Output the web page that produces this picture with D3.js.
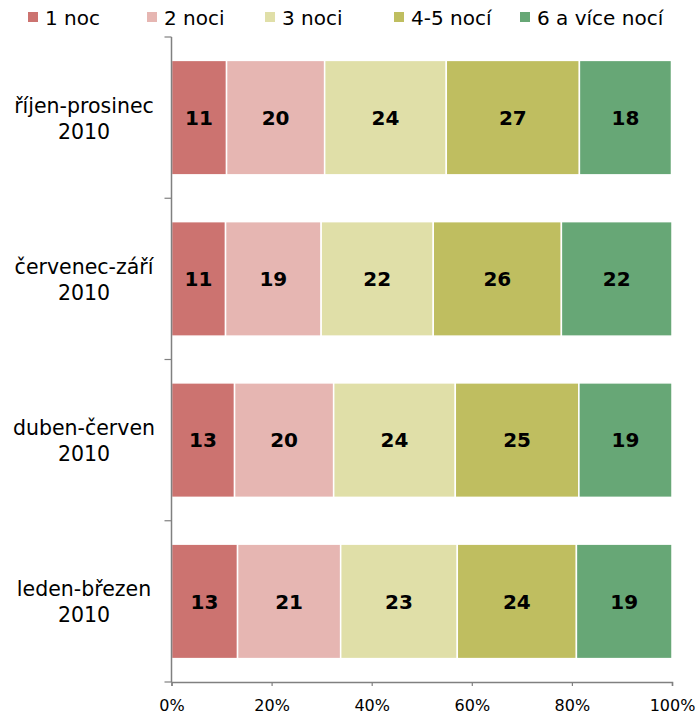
<!DOCTYPE html>
<html>
<head>
<meta charset="utf-8">
<script src="https://cdn.jsdelivr.net/npm/d3@7"></script>
<style>
  html, body { margin: 0; padding: 0; background: #fff; }
  svg { display: block; }
  text { font-family: "DejaVu Sans", Verdana, sans-serif; }
</style>
</head>
<body>
<div id="chart"></div>
<script>
// ---- data ----
const categories = [
  ["říjen-prosinec", "2010"],
  ["červenec-září", "2010"],
  ["duben-červen", "2010"],
  ["leden-březen", "2010"]
];
const seriesNames = ["1 noc", "2 noci", "3 noci", "4-5 nocí", "6 a více nocí"];
const s1 = [11.0, 10.8, 12.6, 13.2];
const s2 = [19.6, 19.1, 19.8, 20.6];
const s3 = [24.3, 22.4, 24.3, 23.3];
const s4 = [26.6, 25.6, 24.7, 23.8];
const s5 = [18.4, 22.1, 18.6, 19.1];
const colors = ["#CC7370", "#E6B6B2", "#E0DFA8", "#BFBE60", "#67A776"];
const xTicks = [0, 20, 40, 60, 80, 100];

const W = 697, H = 715;
const margin = { left: 171.5, right: 25, top: 37, bottom: 33 };

const svg = d3.select("#chart").append("svg").attr("width", W).attr("height", H);

const rows = categories.map((c, i) => ({
  key: c.join(" "), lines: c,
  vals: [s1[i], s2[i], s3[i], s4[i], s5[i]]
}));

const x = d3.scaleLinear().domain([0, 100]).range([margin.left, W - margin.right]);
const y = d3.scaleBand().domain(rows.map(r => r.key))
  .range([margin.top, H - margin.bottom]).paddingInner(0.29).paddingOuter(0.145);

// bars
rows.forEach(r => {
  let acc = 0;
  const segs = r.vals.map((v, j) => { const s = { x0: acc, x1: acc + v, v, j }; acc += v; return s; });
  const g = svg.append("g");
  g.selectAll("rect").data(segs).enter().append("rect")
    .attr("x", d => x(d.x0))
    .attr("width", d => x(d.x1) - x(d.x0))
    .attr("y", y(r.key))
    .attr("height", y.bandwidth())
    .attr("fill", d => colors[d.j])
    .attr("stroke", "#fff").attr("stroke-width", 1.5);
  g.selectAll("text").data(segs).enter().append("text")
    .attr("x", d => (x(d.x0) + x(d.x1)) / 2)
    .attr("y", y(r.key) + y.bandwidth() / 2)
    .attr("dy", "0.36em")
    .attr("text-anchor", "middle")
    .attr("font-size", 20).attr("font-weight", "bold").attr("fill", "#000")
    .text(d => Math.round(d.v));
});

// y axis line and ticks (at band boundaries)
const axisColor = "#808080";
const plotTop = margin.top, plotBottom = H - margin.bottom;
svg.append("line").attr("x1", x(0)).attr("x2", x(0)).attr("y1", plotTop).attr("y2", plotBottom)
  .attr("stroke", axisColor).attr("stroke-width", 1.5);
const step = (plotBottom - plotTop) / rows.length;
d3.range(rows.length + 1).forEach(i => {
  const yy = plotTop + i * step;
  svg.append("line").attr("x1", x(0) - 7).attr("x2", x(0)).attr("y1", yy).attr("y2", yy)
    .attr("stroke", axisColor).attr("stroke-width", 1.2);
});

// category labels
rows.forEach(r => {
  const cy = y(r.key) + y.bandwidth() / 2;
  const t = svg.append("text").attr("text-anchor", "middle").attr("font-size", 20.5).attr("fill", "#000");
  t.append("tspan").attr("x", 84).attr("y", cy - 5).text(r.lines[0]);
  t.append("tspan").attr("x", 84).attr("y", cy + 21).text(r.lines[1]);
});

// x axis
const xAxis = d3.axisBottom(x).tickValues(xTicks).tickFormat(d => d + "%").tickSize(4).tickPadding(14);
const gx = svg.append("g").attr("transform", `translate(0,${plotBottom})`).call(xAxis);
gx.attr("font-size", 16).attr("font-family", "'DejaVu Sans', Verdana, sans-serif");
gx.select(".domain").attr("stroke", axisColor).attr("stroke-width", 1.5);
gx.selectAll(".tick line").attr("stroke", axisColor).attr("stroke-width", 1.2);
gx.selectAll(".tick text").attr("font-size", 16).attr("fill", "#000");

// legend
const legendX = [28, 147, 265, 394, 520];
const lg = svg.append("g");
seriesNames.forEach((n, i) => {
  lg.append("rect").attr("x", legendX[i]).attr("y", 12).attr("width", 10).attr("height", 10)
    .attr("fill", colors[i]);
  lg.append("text").attr("x", legendX[i] + 17).attr("y", 24.5)
    .attr("font-size", 20).attr("fill", "#000").text(n);
});
</script>
</body>
</html>
